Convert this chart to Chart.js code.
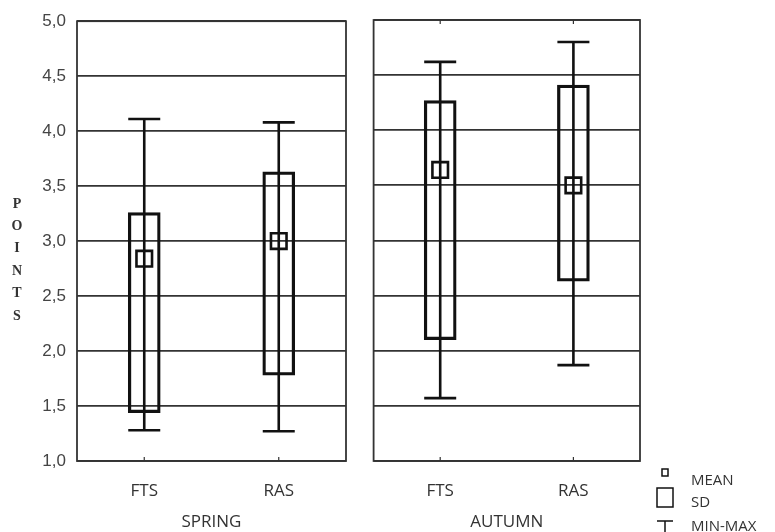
<!DOCTYPE html>
<html>
<head>
<meta charset="utf-8">
<script src="https://cdn.jsdelivr.net/npm/chart.js@4.4.1/dist/chart.umd.min.js"></script>
<style>
  html, body { margin: 0; padding: 0; background: #fff; }
  #wrap { position: relative; width: 775px; height: 532px; overflow: hidden; }
  canvas { position: absolute; top: 0; }
  #spring-chart { left: 0; }
  #autumn-chart { left: 360px; }
</style>
</head>
<body>
<div id="wrap">
  <canvas id="spring-chart" width="360" height="532"></canvas>
  <canvas id="autumn-chart" width="415" height="532"></canvas>
</div>
<script>
(function () {
    'use strict';

    // data
    const groups = ['FTS', 'RAS'];
    const yTickLabels = ['1,0', '1,5', '2,0', '2,5', '3,0', '3,5', '4,0', '4,5', '5,0'];
    const yAxisLetters = ['P', 'O', 'I', 'N', 'T', 'S'];
    const legendLabels = ['MEAN', 'SD', 'MIN-MAX'];

    const springMean = [2.84, 3.00];
    const springSdLow = [1.44, 1.78];
    const springSdHigh = [3.26, 3.63];
    const springMin = [1.28, 1.27];
    const springMax = [4.11, 4.08];

    const autumnMean = [3.64, 3.50];
    const autumnSdLow = [2.10, 2.63];
    const autumnSdHigh = [4.27, 4.41];
    const autumnMin = [1.57, 1.87];
    const autumnMax = [4.62, 4.80];

    const INK = '#111';
    const GRID = '#333';
    const TEXT = '#333';

    // min-max whiskers through the chart's own scales
    const whiskerPlugin = {
        id: 'whiskers',
        afterDatasetsDraw(chart, args, opts) {
            const { ctx, scales: { x, y } } = chart;
            ctx.save();
            ctx.strokeStyle = INK;
            ctx.lineWidth = 2.6;
            opts.min.forEach((lo, i) => {
                const px = x.getPixelForValue(i);
                const yLo = y.getPixelForValue(lo);
                const yHi = y.getPixelForValue(opts.max[i]);
                ctx.beginPath();
                ctx.moveTo(px, yLo);
                ctx.lineTo(px, yHi);
                ctx.moveTo(px - 16, yLo);
                ctx.lineTo(px + 16, yLo);
                ctx.moveTo(px - 16, yHi);
                ctx.lineTo(px + 16, yHi);
                ctx.stroke();
            });
            ctx.restore();
        },
    };

    // plot frame and small inner tick marks
    const framePlugin = {
        id: 'frame',
        afterDraw(chart, args, opts) {
            const { ctx, chartArea: a, scales: { x } } = chart;
            ctx.save();
            ctx.strokeStyle = GRID;
            ctx.lineWidth = 1.8;
            ctx.strokeRect(a.left, a.top, a.right - a.left, a.bottom - a.top);
            ctx.lineWidth = 1.2;
            groups.forEach((g, i) => {
                const px = x.getPixelForValue(i);
                ctx.beginPath();
                ctx.moveTo(px, a.bottom);
                ctx.lineTo(px, a.bottom - 4);
                if (opts.topTicks) {
                    ctx.moveTo(px, a.top);
                    ctx.lineTo(px, a.top + 4);
                }
                ctx.stroke();
            });
            ctx.restore();
        },
    };

    // upright stacked letters of the y axis title
    const letterTitlePlugin = {
        id: 'letterTitle',
        afterDraw(chart, args, opts) {
            if (!opts.letters) return;
            const { ctx } = chart;
            ctx.save();
            ctx.fillStyle = TEXT;
            ctx.font = 'bold 14px "Liberation Serif", "DejaVu Serif", serif';
            ctx.textAlign = 'center';
            ctx.textBaseline = 'middle';
            opts.letters.forEach((ch, i) => {
                ctx.fillText(ch, 17, 204 + i * 22.4);
            });
            ctx.restore();
        },
    };

    // mean / sd / min-max key at the bottom right
    const keyPlugin = {
        id: 'key',
        afterDraw(chart, args, opts) {
            if (!opts.labels) return;
            const { ctx, chartArea: a } = chart;
            const ix = a.right + 25;
            ctx.save();
            ctx.strokeStyle = INK;
            ctx.fillStyle = TEXT;
            ctx.lineWidth = 1.5;
            ctx.strokeRect(ix - 3, 469, 6, 7);
            ctx.strokeRect(ix - 8, 488, 16, 19);
            ctx.beginPath();
            ctx.moveTo(ix - 8, 521);
            ctx.lineTo(ix + 8, 521);
            ctx.moveTo(ix, 521);
            ctx.lineTo(ix, 534);
            ctx.stroke();
            ctx.font = '15px "Open Sans", sans-serif';
            ctx.textBaseline = 'middle';
            const ys = [481, 503, 527];
            opts.labels.forEach((t, i) => ctx.fillText(t, ix + 26, ys[i]));
            ctx.restore();
        },
    };

    function makeChart(canvas, title, mean, sdLow, sdHigh, min, max, left) {
        return new Chart(canvas, {
            type: 'bar',
            data: {
                labels: groups,
                datasets: [
                    {
                        type: 'line',
                        label: 'MEAN',
                        data: mean,
                        showLine: false,
                        pointStyle: 'rect',
                        pointRadius: 11,
                        pointBorderWidth: 2.6,
                        pointBorderColor: INK,
                        pointBackgroundColor: 'rgba(0,0,0,0)',
                    },
                    {
                        label: 'SD',
                        data: sdLow.map((lo, i) => [lo, sdHigh[i]]),
                        backgroundColor: 'rgba(0,0,0,0)',
                        borderColor: INK,
                        borderWidth: 2.6,
                        borderSkipped: false,
                        barThickness: 32,
                    },
                ],
            },
            options: {
                responsive: false,
                animation: false,
                events: [],
                devicePixelRatio: 1,
                layout: {
                    padding: { top: 20, right: left ? 14 : 135, left: 0, bottom: 0 },
                },
                plugins: {
                    legend: { display: false },
                    tooltip: { enabled: false },
                    whiskers: { min, max },
                    frame: { topTicks: !left },
                    letterTitle: { letters: left ? yAxisLetters : null },
                    key: { labels: left ? null : legendLabels },
                },
                scales: {
                    x: {
                        grid: { display: false },
                        border: { display: false },
                        ticks: {
                            color: TEXT,
                            padding: 12,
                            font: { family: '"Open Sans", sans-serif', size: 17 },
                        },
                        title: {
                            display: true,
                            text: title,
                            color: TEXT,
                            padding: { top: 0, bottom: 0 },
                            font: { family: '"Open Sans", sans-serif', size: 17 },
                        },
                        afterFit: (s) => { s.height = 71; },
                    },
                    y: {
                        min: 1,
                        max: 5,
                        border: { display: false },
                        grid: { color: GRID, lineWidth: 1.8, drawTicks: false },
                        ticks: {
                            display: left,
                            stepSize: 0.5,
                            padding: 11,
                            color: '#444',
                            font: { family: '"Liberation Sans", Arial, sans-serif', size: 17 },
                            callback: (v, i) => yTickLabels[i],
                        },
                        afterFit: (s) => { s.width = left ? 77 : 11; },
                    },
                },
            },
            plugins: [whiskerPlugin, framePlugin, letterTitlePlugin, keyPlugin],
        });
    }

    makeChart(document.getElementById('spring-chart'), 'SPRING',
        springMean, springSdLow, springSdHigh, springMin, springMax, true);
    makeChart(document.getElementById('autumn-chart'), 'AUTUMN',
        autumnMean, autumnSdLow, autumnSdHigh, autumnMin, autumnMax, false);
})();
</script>
</body>
</html>
